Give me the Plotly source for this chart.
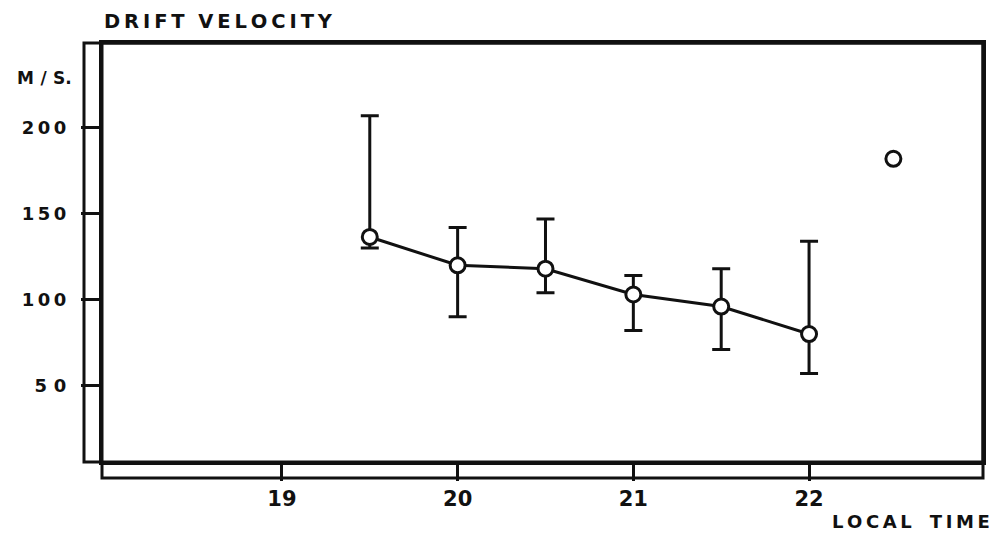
import plotly.graph_objects as go

# Data
hours = [19.5, 20.0, 20.5, 21.0, 21.5, 22.0]
velocity = [136.5, 120, 118, 103, 96, 80]
err_upper = [207, 142, 147, 114, 118, 134]
err_lower = [130, 90, 104, 82, 71, 57]

extra_hour = [22.48]
extra_velocity = [182]

x_ticks = [19, 20, 21, 22]
x_ticktext = ["19", "20", "21", "22"]
y_ticks = [50, 100, 150, 200]
y_ticktext = ["5\u20080", "1\u20090\u20090", "1\u20095\u20090", "2\u20090\u20090"]

INK = "#111111"
FONT = "DejaVu Sans"
TS = "\u2009"  # thin space used to letter-space the labels

plus = [u - v for u, v in zip(err_upper, velocity)]
minus = [v - l for v, l in zip(velocity, err_lower)]

fig = go.Figure()
fig.add_trace(go.Scatter(
    x=hours, y=velocity, mode="lines+markers",
    line=dict(color=INK, width=3),
    marker=dict(symbol="circle", size=15, color="white", line=dict(color=INK, width=3)),
    error_y=dict(type="data", symmetric=False, array=plus, arrayminus=minus,
                 color=INK, thickness=3, width=9),
    showlegend=False,
))
fig.add_trace(go.Scatter(
    x=extra_hour, y=extra_velocity, mode="markers",
    marker=dict(symbol="circle", size=15, color="white", line=dict(color=INK, width=3)),
    showlegend=False,
))

W, H = 998, 538
L, R, T, B = 102, 15, 43, 76
pw = W - L - R
ph = H - T - B
strip_y = 18 / pw
strip_x = 16 / ph


def spaced(word):
    return TS.join(word)


title_text = spaced("DRIFT") + "\u2002\u2009" + spaced("VELOCITY")
xlab_text = spaced("LOCAL") + "\u2003" + spaced("TIME")
unit_text = "M\u2008/\u2008S."

fig.update_layout(
    width=W, height=H,
    margin=dict(l=L, r=R, t=T, b=B),
    paper_bgcolor="white", plot_bgcolor="white",
    font=dict(family=FONT, color=INK),
    xaxis=dict(range=[17.976, 22.99], tickvals=x_ticks, ticktext=x_ticktext,
               showgrid=False, zeroline=False, showline=True, linewidth=3, linecolor=INK,
               mirror=True, ticks="outside", ticklen=16, tickwidth=3, tickcolor=INK,
               tickfont=dict(family=FONT, size=21, color=INK, weight="bold"),
               ticklabelstandoff=0),
    yaxis=dict(range=[5.5, 249.4], tickvals=y_ticks, ticktext=y_ticktext,
               showgrid=False, zeroline=False, showline=True, linewidth=3, linecolor=INK,
               mirror=True, ticks="outside", ticklen=18, tickwidth=3, tickcolor=INK,
               tickfont=dict(family=FONT, size=18, color=INK, weight="bold"),
               ticklabelstandoff=11),
    shapes=[
        dict(type="rect", xref="paper", yref="paper", x0=-strip_y, x1=1, y0=0, y1=1,
             line=dict(color=INK, width=3), fillcolor="rgba(0,0,0,0)"),
        dict(type="rect", xref="paper", yref="paper", x0=0, x1=1, y0=-strip_x, y1=1,
             line=dict(color=INK, width=3), fillcolor="rgba(0,0,0,0)"),
    ],
    annotations=[
        dict(text=title_text, xref="paper", yref="paper", x=(102 - L) / pw, y=1 + (T - 22) / ph,
             xanchor="left", yanchor="middle", showarrow=False,
             font=dict(family=FONT, size=19.5, color=INK, weight="bold")),
        dict(text=unit_text, xref="paper", yref="paper",
             x=(74 - L) / pw, y=1 - (78 - T) / ph, xanchor="right", yanchor="middle",
             showarrow=False, font=dict(family=FONT, size=17, color=INK, weight="bold")),
        dict(text=xlab_text, xref="paper", yref="paper",
             x=(992 - L) / pw, y=-(521 - (T + ph)) / ph, xanchor="right", yanchor="middle",
             showarrow=False, font=dict(family=FONT, size=18, color=INK, weight="bold")),
    ],
)

fig.write_html("out.html", config={"displayModeBar": False},
               post_script="document.body.style.margin='0';")
